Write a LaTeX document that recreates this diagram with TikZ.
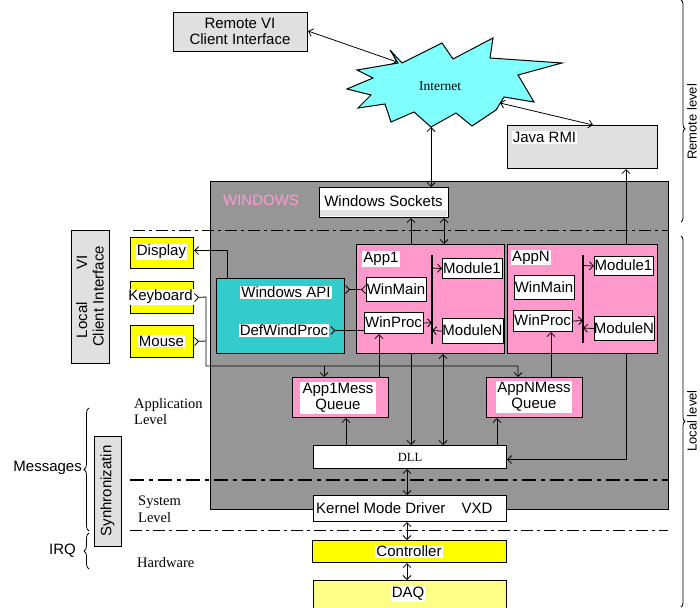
\documentclass[tikz,border=0pt]{standalone}
\usepackage{fontspec}
\setmainfont{Liberation Sans}
\newfontfamily\seriff{Liberation Serif}
\usetikzlibrary{arrows.meta,decorations.pathreplacing}
\definecolor{wgray}{HTML}{969696}
\definecolor{lgray}{HTML}{E0E0E0}
\definecolor{pinkc}{HTML}{FF99CC}
\definecolor{cyanb}{HTML}{33CCCC}
\definecolor{cloudc}{HTML}{80FFFF}
\definecolor{yel}{HTML}{FFFF00}
\definecolor{lyel}{HTML}{FFFF88}
\newcommand\fsz{\fontsize{15}{16.5}\selectfont}
\newcommand\fsr{\seriff\fontsize{14.5}{16.5}\selectfont}
\begin{document}
\begin{tikzpicture}[x=1pt,y=-1pt,
  box/.style={draw=black, line width=1.1pt, rectangle, inner sep=0pt, anchor=north west},
  lbl/.style={fill=white, inner sep=1pt, font=\fsz},
  txt/.style={inner sep=0pt, font=\fsz},
  ar/.style={line width=0.8pt},
  >={Straight Barb[length=4pt,width=8pt]},
  brc/.style={decorate, line width=0.8pt}]
\useasboundingbox (0,0) rectangle (700,607);
\clip (0,0) rectangle (700,607);
\fill[white] (0,0) rectangle (700,607);

% --- boxes ---
\node[box, fill=lgray, minimum width=134pt, minimum height=39pt] (remote) at (173,12) {};
\node[txt, align=center] at (240,31.5) {Remote VI\\Client Interface};

\draw[fill=cloudc, line width=1pt, line join=miter]
  (390,50) -- (402,63) -- (442,43) -- (453,59) -- (493,38) -- (490,58) -- (562,63)
  -- (518,75) -- (534,102) -- (504,97) -- (496,110) -- (472,126) -- (456,113)
  -- (431,127) -- (414,112) -- (391,122) -- (385,104) -- (358,108) -- (371,95)
  -- (347,89) -- (373,78) -- (357,70) -- (398,63) -- cycle;
\node[inner sep=0pt, font=\seriff\fontsize{13.5}{15}\selectfont] (inet) at (440,86) {Internet};

\node[box, fill=lgray, minimum width=150pt, minimum height=43pt] (java) at (507,125) {};
\node[lbl] at (544.5,137.5) {Java RMI};

\node[box, fill=wgray, minimum width=458pt, minimum height=328pt] (win) at (210,181) {};
\node[txt, text=pinkc] at (261,200) {WINDOWS};

\node[box, fill=white, minimum width=129pt, minimum height=30pt] (sock) at (319,187) {};
\fill[lgray] (320,210) rectangle (447,216.4);
\node[txt] at (383.5,201) {Windows Sockets};

\node[box, fill=lgray, minimum width=38pt, minimum height=133pt] (localvi) at (71,230) {};
\node[txt, rotate=90, align=center] at (90,296.5) {Local\hspace{2.2em}VI\\Client Interface};

\node[box, fill=yel, minimum width=63pt, minimum height=31pt] (display) at (130,237) {};
\node[lbl] at (161.5,252) {Display};
\node[box, fill=yel, minimum width=63pt, minimum height=32pt] (keyboard) at (130,281) {};
\node[lbl] at (160.5,297) {Keyboard};
\node[box, fill=yel, minimum width=63pt, minimum height=32pt] (mouse) at (130,325) {};
\node[lbl] at (161.5,341) {Mouse};

\node[box, fill=cyanb, minimum width=128pt, minimum height=75pt] (winapi) at (216,278) {};
\node[lbl] (wapil) at (286,292.5) {Windows API};
\node[lbl] (defwp) at (284,330.5) {DefWindProc};

\node[box, fill=pinkc, minimum width=148pt, minimum height=109pt] (app1) at (356,244) {};
\node[lbl] at (381,259) {App1};
\node[box, fill=white, minimum width=60pt, minimum height=24pt] (winmain1) at (366,277) {};
\node[txt] at (396,289) {WinMain};
\node[box, fill=white, minimum width=59pt, minimum height=21pt] (winproc1) at (364,312) {};
\node[txt] at (393.5,322.5) {WinProc};
\node[box, fill=white, minimum width=60pt, minimum height=20pt] (mod1a) at (442,258) {};
\node[txt] at (472,268) {Module1};
\node[box, fill=white, minimum width=61pt, minimum height=25pt] (modNa) at (442,318) {};
\node[txt] at (472.5,330.5) {ModuleN};
\draw[line width=1.1pt] (432,255) -- (432,344);

\node[box, fill=pinkc, minimum width=150pt, minimum height=109pt] (appN) at (507,244) {};
\node[lbl] at (531,257.5) {AppN};
\node[box, fill=white, minimum width=60pt, minimum height=24pt] (winmainN) at (514,275) {};
\node[txt] at (544,287) {WinMain};
\node[box, fill=white, minimum width=59pt, minimum height=21pt] (winprocN) at (513,310) {};
\node[txt] at (542.5,320.5) {WinProc};
\node[box, fill=white, minimum width=59pt, minimum height=19pt] (mod1N) at (594,256) {};
\node[txt] at (623.5,265.5) {Module1};
\node[box, fill=white, minimum width=60pt, minimum height=24pt] (modNN) at (594,316) {};
\node[txt] at (624,328) {ModuleN};
\draw[line width=1.1pt] (583,255) -- (583,343);

\node[box, fill=pinkc, minimum width=96pt, minimum height=40pt] (q1) at (292,377) {};
\node[lbl, align=center, minimum width=76pt, minimum height=30pt] at (338,398) {App1Mess\\Queue};
\node[box, fill=pinkc, minimum width=96pt, minimum height=40pt] (qN) at (486,377) {};
\node[lbl, align=center, minimum width=76pt, minimum height=30pt] at (534,397) {AppNMess\\Queue};

\node[box, fill=white, minimum width=193pt, minimum height=23pt] (dll) at (313,445) {};
\node[inner sep=0pt, font=\seriff\fontsize{12.5}{15}\selectfont] at (410,457) {DLL};

\node[box, fill=white, minimum width=193pt, minimum height=26pt] (kernel) at (313,495) {};
\node[txt, anchor=west] at (316,508) {Kernel Mode Driver};
\node[txt] at (477,508) {VXD};

\node[box, fill=yel, minimum width=194pt, minimum height=22pt] (ctrl) at (312,540) {};
\node[lbl] at (409,551) {Controller};
\node[box, fill=lyel, minimum width=193pt, minimum height=40pt] (daq) at (313,580) {};
\node[lbl] at (408,594) {DAQ};

\node[box, fill=lgray, minimum width=27pt, minimum height=110pt] (sync) at (94,436) {};
\node[txt, rotate=90] at (107.5,491) {Synhronizatin};

% --- level lines ---
\draw[line width=0.9pt, dash pattern=on 12pt off 4pt on 3pt off 4pt] (133,230) -- (668,230);
\draw[line width=2.4pt, dash pattern=on 14pt off 5pt on 4pt off 5pt] (130,480) -- (668,480);
\draw[line width=0.9pt, dash pattern=on 12pt off 4pt on 3pt off 4pt] (130,530) -- (668,530);

% --- left labels ---
\node[inner sep=0pt, anchor=west, align=left, font=\fsr] at (134,411.5) {Application\\Level};
\node[inner sep=0pt, anchor=west, align=left, font=\fsr] at (138,509.5) {System\\Level};
\node[inner sep=0pt, anchor=west, font=\fsr] at (137,563) {Hardware};
\node[txt, anchor=east] at (82,468) {Messages};
\node[txt, anchor=east] at (76,551) {IRQ};
\draw[brc, decoration={brace, amplitude=5pt}] (89,531) -- (89,408);
\draw[brc, decoration={brace, amplitude=5pt}] (89,569) -- (89,533);

% --- right labels ---
\draw[brc, decoration={brace, amplitude=4pt, aspect=0.58}] (681,0) -- (681,222);
\draw[brc, decoration={brace, amplitude=4pt}] (681,236) -- (681,607);
\node[inner sep=0pt, font=\fontsize{13}{15}\selectfont, rotate=90] at (692,122) {Remote level};
\node[inner sep=0pt, font=\fontsize{13}{15}\selectfont, rotate=90] at (692,421) {Local level};

% --- connectors ---
\draw[ar, <->] (remote.east) ++(0,-1) -- (397,62);
\draw[ar, <->] (500,103) -- (java.north -| 593,0);
\draw[ar, <->] (431,127) -- (sock.north -| 431,0);
\draw[ar, ->] (app1.north -| 411,0) -- (sock.south -| 411,0);
\draw[ar, <->] (sock.south -| 444,0) -- (app1.north -| 444,0);
\draw[ar, ->] (appN.north -| 626,0) -- (java.south -| 626,0);
\draw[ar, ->] (winapi.north -| 227,0) |- ([yshift=2.5pt]display.east);
\draw[ar, >->] (keyboard.east) -- (206,297) -- (206,366) -- (518,366) -- (qN.north -| 518,0);
\draw[ar, >-] (mouse.east) -- (206,341);
\draw[ar, ->] (324,366) -- (q1.north -| 324,0);
\draw[ar, >-<] (winapi.east |- winmain1.west) -- (winmain1.west);
\draw[ar, >-] ([xshift=1pt]defwp.east) -- (winproc1.west |- defwp.east);
\draw[ar, ->] (winproc1.east) -- (432,322.5);
\draw[ar, ->] (432,268) -- (mod1a.west);
\draw[ar, ->] (modNa.west) -- (432,330.5);
\draw[ar, ->] (winprocN.east) -- (583,320.5);
\draw[ar, ->] (583,265.5) -- (mod1N.west);
\draw[ar, ->] (modNN.west) -- (583,328);
\draw[ar, ->] (q1.north -| 379,0) -- (winproc1.south -| 379,0);
\draw[ar, ->] (qN.north -| 551,0) -- (winprocN.south -| 551,0);
\draw[ar, ->] (dll.north -| 346,0) -- (q1.south -| 346,0);
\draw[ar, ->] (dll.north -| 497,0) -- (qN.south -| 497,0);
\draw[ar, ->] (app1.south -| 411,0) -- (dll.north -| 411,0);
\draw[ar, <->] (app1.south -| 443,0) -- (dll.north -| 443,0);
\draw[ar, ->] (appN.south -| 626,0) |- ([yshift=-2.5pt]dll.east);
\draw[ar, <->] (dll.south -| 407,0) -- (kernel.north -| 407,0);
\draw[ar, <->] (kernel.south -| 407,0) -- (ctrl.north -| 407,0);
\draw[ar, <->] (ctrl.south -| 407,0) -- (daq.north -| 407,0);
\end{tikzpicture}
\end{document}
